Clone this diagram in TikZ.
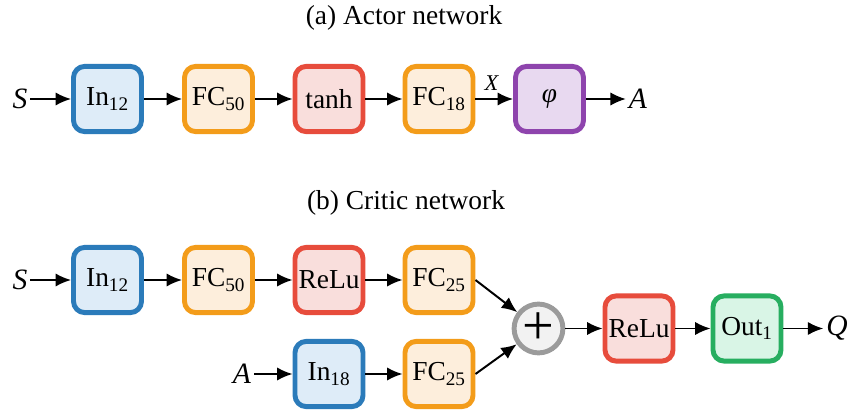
\documentclass[tikz,border=0pt]{standalone}
\usepackage{fontspec}
\setmainfont{Liberation Serif}
\usetikzlibrary{arrows.meta}

\definecolor{inblue}{HTML}{2B7BBA}
\definecolor{inbluefill}{HTML}{DEECF8}
\definecolor{fcorange}{HTML}{F39C1A}
\definecolor{fcorangefill}{HTML}{FDEEDC}
\definecolor{actred}{HTML}{E74C3C}
\definecolor{actredfill}{HTML}{F9DEDC}
\definecolor{phipurple}{HTML}{8E44AD}
\definecolor{phipurplefill}{HTML}{E8D9F0}
\definecolor{outgreen}{HTML}{27AE60}
\definecolor{outgreenfill}{HTML}{D9F5E6}
\definecolor{sumgray}{HTML}{9B9B9B}
\definecolor{sumgrayfill}{HTML}{F2F2F2}

\tikzset{
  layer/.style={draw, line width=3.5pt, rounded corners=8pt,
    minimum width=1.7cm, minimum height=1.63cm, inner sep=0pt,
    font=\fontsize{19.5}{23}\selectfont},
  inlayer/.style={layer, draw=inblue, fill=inbluefill},
  fclayer/.style={layer, draw=fcorange, fill=fcorangefill},
  actlayer/.style={layer, draw=actred, fill=actredfill},
  philayer/.style={layer, draw=phipurple, fill=phipurplefill},
  outlayer/.style={layer, draw=outgreen, fill=outgreenfill},
  sumnode/.style={circle, draw=sumgray, fill=sumgrayfill, line width=3.5pt,
    minimum size=1.22cm, inner sep=0pt, font=\fontsize{40}{40}\selectfont},
  sym/.style={font=\fontsize{21}{25}\selectfont\itshape, inner sep=2pt},
  title/.style={font=\fontsize{19.5}{23}\selectfont},
  conn/.style={-{Latex[length=11pt,width=9.5pt]}, line width=1.4pt}
}

\begin{document}
\begin{tikzpicture}[x=0.025cm, y=-0.025cm]
  \useasboundingbox (0,0) rectangle (848,412);

  % (a) actor
  \node[title] (ta) at (404,18) {(a) Actor network};
  \node[sym] (sa) at (20,99) {S};
  \node[inlayer] (ina) at (107.5,99) {In\textsubscript{12}};
  \node[fclayer] (fca) at (218.5,99) {FC\textsubscript{50}};
  \node[actlayer] (tanh) at (329,99) {tanh};
  \node[fclayer] (fcb) at (439,99) {FC\textsubscript{18}};
  \node[philayer] (phi) at (549.5,99) {\textit{φ}};
  \node[sym] (aout) at (638,99) {A};

  \draw[conn] (sa) -- (ina);
  \draw[conn] (ina) -- (fca);
  \draw[conn] (fca) -- (tanh);
  \draw[conn] (tanh) -- (fcb);
  \draw[conn] (fcb) -- node[above, sym, inner sep=5pt, xshift=-2pt,
    font=\fontsize{16}{18}\selectfont\itshape] {X} (phi);
  \draw[conn] (phi) -- (aout);

  % (b) critic
  \node[title] (tb) at (406,203) {(b) Critic network};
  \node[sym] (sb) at (20,280) {S};
  \node[inlayer] (inb) at (107.5,280) {In\textsubscript{12}};
  \node[fclayer] (fcc) at (218.5,280) {FC\textsubscript{50}};
  \node[actlayer] (relua) at (329,280) {ReLu};
  \node[fclayer] (fcd) at (439,280) {FC\textsubscript{25}};

  \node[sym] (ain) at (242,374) {A};
  \node[inlayer] (inc) at (329,374) {In\textsubscript{18}};
  \node[fclayer] (fce) at (439,374) {FC\textsubscript{25}};

  \node[sumnode] (sum) at (538.5,328.5) {+};
  \node[actlayer] (relub) at (639,328.5) {ReLu};
  \node[outlayer] (out) at (747,328.5) {Out\textsubscript{1}};
  \node[sym] (q) at (837,328.5) {Q};

  \draw[conn] (sb) -- (inb);
  \draw[conn] (inb) -- (fcc);
  \draw[conn] (fcc) -- (relua);
  \draw[conn] (relua) -- (fcd);
  \draw[conn] (ain) -- (inc);
  \draw[conn] (inc) -- (fce);
  \draw[conn] (fcd.east) -- (sum);
  \draw[conn] (fce.east) -- (sum);
  \draw[conn] (sum) -- (relub);
  \draw[conn] (relub) -- (out);
  \draw[conn] (out) -- (q);
\end{tikzpicture}
\end{document}
